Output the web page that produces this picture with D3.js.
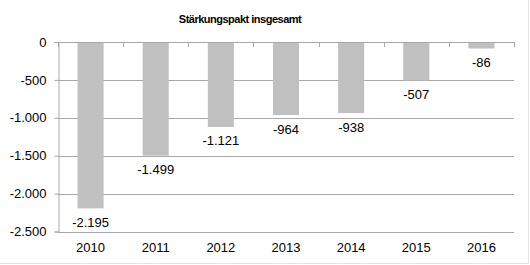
<!DOCTYPE html>
<html>
<head>
<meta charset="utf-8">
<script src="https://cdn.jsdelivr.net/npm/d3@7"></script>
<style>
  body { margin: 0; background: #fff; }
  text { font-family: Arial, "Liberation Sans", sans-serif; }
</style>
</head>
<body>
<div id="chart"></div>
<script>
var years = ["2010", "2011", "2012", "2013", "2014", "2015", "2016"];
var values = [-2195, -1499, -1121, -964, -938, -507, -86];
var yTicks = [0, -500, -1000, -1500, -2000, -2500];
var title = "Stärkungspakt insgesamt";

var width = 530, height = 265;
var plotLeft = 58, plotRight = 514, plotTop = 42, plotBottom = 231.5;

var de = d3.formatLocale({decimal: ",", thousands: ".", grouping: [3], currency: ["", " €"], minus: "-"});
var fmt = de.format(",d");

var svg = d3.select("#chart").append("svg")
    .attr("width", width)
    .attr("height", height);

// frame
svg.append("path")
    .attr("d", "M528.5,0V263.5H0")
    .attr("fill", "none")
    .attr("stroke", "#e3e3e3");

svg.append("text")
    .attr("x", 240)
    .attr("y", 23)
    .attr("text-anchor", "middle")
    .style("font-size", "11px")
    .style("font-weight", "bold")
    .style("letter-spacing", "-0.5px")
    .text(title);

var x = d3.scaleBand().domain(years).range([plotLeft, plotRight]).paddingInner(0.6).paddingOuter(0.3);
var y = d3.scaleLinear().domain([-2500, 0]).range([plotBottom, plotTop]);

// gridlines
svg.append("g")
    .selectAll("line")
    .data(yTicks)
    .enter()
    .append("line")
    .attr("x1", plotLeft)
    .attr("x2", plotRight)
    .attr("y1", function(d){ return Math.round(y(d)) + 0.5; })
    .attr("y2", function(d){ return Math.round(y(d)) + 0.5; })
    .attr("stroke", "#a8a8a8");

// y axis
var yAxis = svg.append("g")
    .attr("transform", "translate(" + (plotLeft + 0.5) + ",0)")
    .call(d3.axisLeft(y).tickValues(yTicks).tickSize(4).tickPadding(8).tickFormat(fmt));
yAxis.select(".domain").attr("stroke", "#a8a8a8");
yAxis.selectAll(".tick line").attr("stroke", "#a8a8a8");
yAxis.selectAll(".tick text").style("font-size", "13px").attr("fill", "#000")
    .attr("font-family", null);

// category ticks at zero line
var step = (plotRight - plotLeft) / years.length;
svg.append("g")
    .selectAll("line")
    .data(d3.range(years.length + 1))
    .enter()
    .append("line")
    .attr("x1", function(i){ return Math.round(plotLeft + i * step) + 0.5; })
    .attr("x2", function(i){ return Math.round(plotLeft + i * step) + 0.5; })
    .attr("y1", Math.round(y(0)))
    .attr("y2", Math.round(y(0)) + 5)
    .attr("stroke", "#a8a8a8");

// bars
svg.append("g")
    .selectAll("rect")
    .data(values)
    .enter()
    .append("rect")
    .attr("x", function(d, i){ return x(years[i]); })
    .attr("y", Math.round(y(0)) + 1)
    .attr("width", x.bandwidth())
    .attr("height", function(d){ return y(d) - y(0) - 1; })
    .attr("fill", "#c0c0c0");

// data labels
svg.append("g")
    .selectAll("text")
    .data(values)
    .enter()
    .append("text")
    .attr("x", function(d, i){ return x(years[i]) + x.bandwidth() / 2; })
    .attr("y", function(d){ return y(d) + 18.5; })
    .attr("text-anchor", "middle")
    .style("font-size", "13px")
    .text(function(d){ return fmt(d); });

// year labels
svg.append("g")
    .selectAll("text")
    .data(years)
    .enter()
    .append("text")
    .attr("x", function(d){ return x(d) + x.bandwidth() / 2; })
    .attr("y", 251.5)
    .attr("text-anchor", "middle")
    .style("font-size", "13px")
    .text(function(d){ return d; });
</script>
</body>
</html>
